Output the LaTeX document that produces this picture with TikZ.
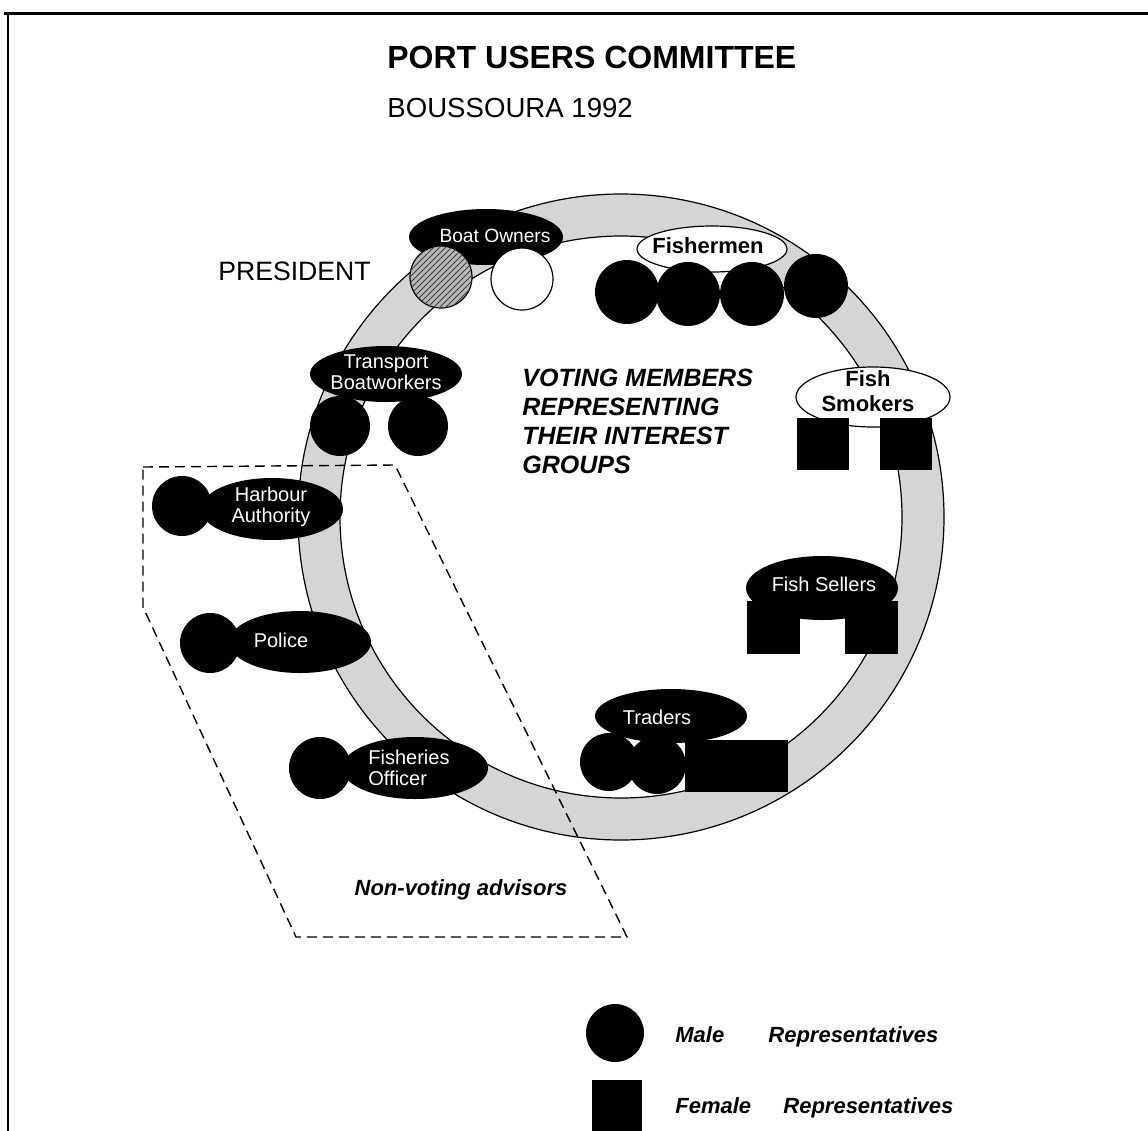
\documentclass[tikz,border=0pt]{standalone}
\usepackage{fontspec}
\setmainfont{Liberation Sans}
\usetikzlibrary{shapes.geometric, patterns}
\tikzset{
  malerep/.style   = {circle, fill=black, inner sep=0pt},
  femalerep/.style = {rectangle, fill=black, inner sep=0pt},
  blackoval/.style = {ellipse, fill=black, inner sep=0pt},
  whiteoval/.style = {ellipse, draw=black, fill=white, line width=0.6pt, inner sep=0pt},
  wlabel/.style    = {text=white, align=center, inner sep=0pt,
                      font=\fontsize{10}{10.5}\selectfont},
  blabel/.style    = {align=center, inner sep=0pt,
                      font=\bfseries\fontsize{11}{12.5}\selectfont},
  note/.style      = {inner sep=0pt, font=\bfseries\itshape\fontsize{11}{13}\selectfont}
}

\begin{document}
\begin{tikzpicture}[x=0.5pt, y=-0.5pt]
  \useasboundingbox (0,0) rectangle (1148,1131);
  \draw[line width=1.5pt] (4,13) -- (1148,13);
  \draw[line width=1pt] (8,13) -- (8,1131);

  \node[font=\bfseries\fontsize{16}{19}\selectfont, anchor=west, inner sep=0pt] (title) at (387,57) {PORT USERS COMMITTEE};
  \node[font=\fontsize{13.8}{16}\selectfont, anchor=west, inner sep=0pt] (place) at (387,108) {BOUSSOURA 1992};
  \node[font=\fontsize{13.3}{16}\selectfont, anchor=west, inner sep=0pt] (president) at (218,271) {PRESIDENT};

  \coordinate (c) at (621,517);
  \fill[gray!33, even odd rule] (c) circle (323) circle (281);
  \draw[line width=0.6pt] (c) circle (323);
  \draw[line width=0.6pt] (c) circle (281);

  \draw[dash pattern=on 5pt off 3pt, line width=0.7pt]
    (143,467) -- (395,465) -- (627,937) -- (296,937) -- (143,607) -- cycle;

  \node[font=\bfseries\itshape\fontsize{12.5}{14.5}\selectfont, align=left, anchor=north west, inner sep=0pt] (voting) at (522,369)
    {VOTING MEMBERS\\REPRESENTING\\THEIR INTEREST\\GROUPS};
  \node[note] (advisors) at (461,890) {Non-voting advisors};

  \node[blackoval, minimum width=77pt, minimum height=28pt] (boat) at (486,237) {};
  \node[malerep, draw=black, line width=0.6pt, fill=gray!55, postaction={pattern=north east lines, pattern color=black!75}, minimum size=31pt] (boatpres) at (441,277) {};
  \node[malerep, draw=black, line width=0.6pt, fill=white, minimum size=31pt] (boat2) at (522,279) {};
  \node[wlabel, font=\fontsize{9.6}{10.5}\selectfont] (tboat) at (495,236) {Boat Owners};

  \node[whiteoval, minimum width=75pt, minimum height=23pt] (fishermen) at (712,249) {};
  \foreach \x/\y [count=\i] in {627/292, 688/294, 752/294, 816/286}
    \node[malerep, minimum size=32pt] (fm\i) at (\x,\y) {};
  \node[blabel] (tfishermen) at (708,246) {Fishermen};

  \node[whiteoval, minimum width=77pt, minimum height=30pt] (smokers) at (873,397) {};
  \node[femalerep, minimum size=26pt] (sm1) at (823,444) {};
  \node[femalerep, minimum size=26pt] (sm2) at (906,444) {};
  \node[blabel] (tsmokers) at (868,391) {Fish\\Smokers};

  \node[malerep, minimum size=30pt] (tb1) at (340,426) {};
  \node[malerep, minimum size=30pt] (tb2) at (418,426) {};
  \node[blackoval, minimum width=76pt, minimum height=28pt] (transport) at (386,374) {};
  \node[wlabel] (ttransport) at (386,372) {Transport\\Boatworkers};

  \node[malerep, minimum size=30pt] (ha1) at (182,506) {};
  \node[blackoval, minimum width=71pt, minimum height=31pt] (harbour) at (272,509) {};
  \node[wlabel] (tharbour) at (271,507) {Harbour\\Authority};

  \node[malerep, minimum size=30pt] (po1) at (210,643) {};
  \node[blackoval, minimum width=71pt, minimum height=31pt] (police) at (300,642) {};
  \node[wlabel] (tpolice) at (281,640) {Police};

  \node[malerep, minimum size=31pt] (fo1) at (320,768) {};
  \node[blackoval, minimum width=73pt, minimum height=31pt] (officer) at (415,768) {};
  \node[wlabel, align=left] (tofficer) at (409,768) {Fisheries\\Officer};

  \node[femalerep, minimum size=26.5pt] (fs1) at (773,627) {};
  \node[femalerep, minimum size=26.5pt] (fs2) at (871,627) {};
  \node[blackoval, minimum width=76pt, minimum height=32pt] (sellers) at (822,588) {};
  \node[wlabel] (tsellers) at (824,584) {Fish Sellers};

  \node[malerep, minimum size=29pt] (tr1) at (609,762) {};
  \node[malerep, minimum size=29pt] (tr2) at (657,765) {};
  \node[femalerep, minimum size=26pt] (tr3) at (711,766) {};
  \node[femalerep, minimum size=26pt] (tr4) at (762,766) {};
  \node[blackoval, minimum width=76pt, minimum height=27pt] (traders) at (671,716) {};
  \node[wlabel] (ttraders) at (657,717) {Traders};

  \node[malerep, minimum size=29pt] (keymale) at (615,1033) {};
  \node[femalerep, minimum width=25pt, minimum height=26pt] (keyfemale) at (617,1106) {};
  \node[note, anchor=base west] (tmale) at (675,1042) {Male};
  \node[note, anchor=base west] (tmalerep) at (768,1042) {Representatives};
  \node[note, anchor=base west] (tfemale) at (675,1113) {Female};
  \node[note, anchor=base west] (tfemalerep) at (783,1113) {Representatives};
\end{tikzpicture}
\end{document}
